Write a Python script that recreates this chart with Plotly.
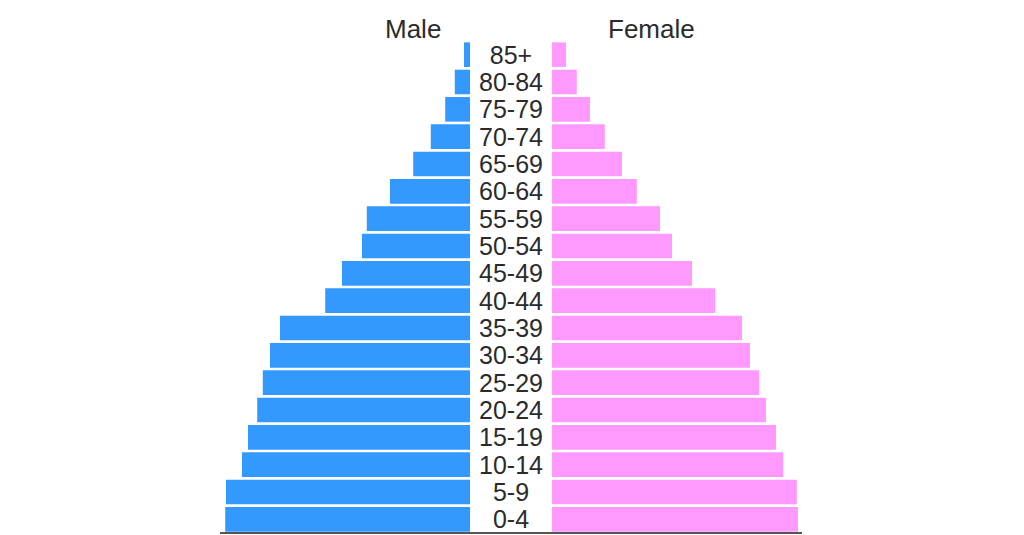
import plotly.graph_objects as go

age_groups = ["0-4", "5-9", "10-14", "15-19", "20-24", "25-29", "30-34", "35-39",
              "40-44", "45-49", "50-54", "55-59", "60-64", "65-69", "70-74",
              "75-79", "80-84", "85+"]
male_pct = [6.12, 6.10, 5.70, 5.55, 5.32, 5.18, 5.00, 4.75, 3.62, 3.20, 2.70,
            2.58, 2.00, 1.42, 0.98, 0.62, 0.38, 0.15]
female_pct = [6.15, 6.12, 5.78, 5.60, 5.35, 5.18, 4.95, 4.75, 4.08, 3.50, 3.00,
              2.70, 2.12, 1.75, 1.32, 0.95, 0.62, 0.35]

W, H = 1024, 535
BLUE = "#3399FF"
PINK = "#FF99FF"
TEXT = "#2b2b2b"
FONT = "Liberation Sans, Arial, sans-serif"
FS = 25

fig = go.Figure()
fig.add_trace(go.Bar(y=age_groups, x=male_pct, orientation="h", marker_color=BLUE,
                     marker_line_width=0, xaxis="x", yaxis="y", name="Male",
                     hoverinfo="x+y"))
fig.add_trace(go.Bar(y=age_groups, x=female_pct, orientation="h", marker_color=PINK,
                     marker_line_width=0, xaxis="x2", yaxis="y", name="Female",
                     hoverinfo="x+y"))
# age-group labels in the centre column
fig.add_trace(go.Scatter(y=age_groups, x=[0.5] * len(age_groups), mode="text",
                         text=age_groups, textposition="middle center",
                         textfont=dict(size=FS, color=TEXT, family=FONT),
                         xaxis="x3", yaxis="y2", hoverinfo="skip", cliponaxis=False))

xmax = 6.25
n = len(age_groups)
shift = 0.1  # nudge label row down slightly to sit centred on the bars
fig.update_layout(
    width=W, height=H,
    margin=dict(l=0, r=0, t=41, b=2, pad=0),
    paper_bgcolor="white", plot_bgcolor="white",
    showlegend=False, bargap=0.1,
    font=dict(family=FONT, color=TEXT),
    xaxis=dict(domain=[220 / W, 470 / W], range=[xmax, 0], visible=False,
               fixedrange=True),
    xaxis2=dict(domain=[552 / W, 802 / W], range=[0, xmax], visible=False,
                anchor="y", fixedrange=True),
    xaxis3=dict(domain=[470 / W, 552 / W], range=[0, 1], visible=False,
                anchor="y2", fixedrange=True),
    yaxis=dict(type="category", categoryorder="array", categoryarray=age_groups,
               range=[-0.5, n - 0.5], visible=False, fixedrange=True),
    yaxis2=dict(type="category", categoryorder="array", categoryarray=age_groups,
                range=[-0.5 + shift, n - 0.5 + shift], visible=False,
                fixedrange=True, overlaying="y", anchor="x3"),
)

plot_h = H - 41 - 2
title_y = (H - 2 - 29) / plot_h

annotations = [
    dict(x=413 / W, xref="paper", y=title_y, yref="paper", text="Male",
         showarrow=False, xanchor="center", yanchor="middle",
         font=dict(size=26, color=TEXT, family=FONT)),
    dict(x=651 / W, xref="paper", y=title_y, yref="paper", text="Female",
         showarrow=False, xanchor="center", yanchor="middle",
         font=dict(size=26, color=TEXT, family=FONT)),
]
fig.update_layout(annotations=annotations)

fig.add_shape(type="line", xref="paper", yref="paper", x0=220 / W, x1=802 / W,
              y0=0, y1=0, line=dict(color="#555555", width=2))

fig.write_html("out.html")
